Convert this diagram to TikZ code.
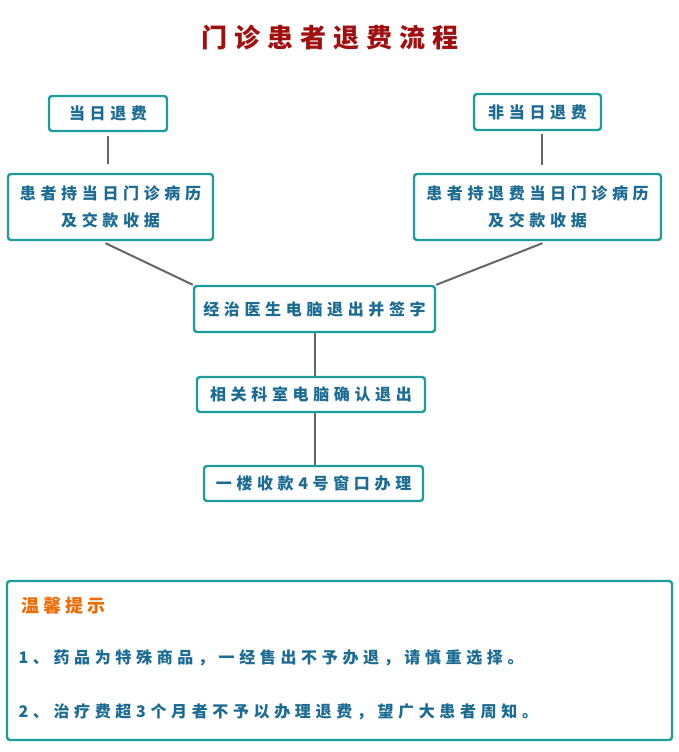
\documentclass[tikz,border=0pt]{standalone}
\usepackage{fontspec}
\usepackage{tikz}
\usetikzlibrary{positioning, calc}
\newfontfamily\cjk[LetterSpace=29]{Noto Sans CJK SC}
\newfontfamily\cjktitle[LetterSpace=27]{Noto Sans CJK SC}
\newfontfamily\cjkhead[LetterSpace=22]{Noto Sans CJK SC}
\definecolor{frame}{HTML}{1E9C9C}
\definecolor{textblue}{HTML}{1B6B93}
\definecolor{titlered}{HTML}{A01010}
\definecolor{tiporange}{HTML}{F06A00}
\definecolor{linkgray}{HTML}{666666}

\begin{document}
\begin{tikzpicture}[
  x=1pt, y=-1pt,
  box/.style={draw=frame, line width=2.4pt, fill=white, rounded corners=3pt,
              inner sep=0pt, align=center, text=textblue,
              font=\cjk\bfseries\fontsize{16}{27}\selectfont},
  link/.style={draw=linkgray, line width=2pt}
]
  \useasboundingbox (0,0) rectangle (679,752);

  % title
  \node[font=\cjktitle\bfseries\fontsize{26}{30}\selectfont, text=titlered]
    (title) at (330,38) {门诊患者退费流程};

  % two starting points
  \node[box, minimum width=118pt, minimum height=35pt] (sameday) at (108,113.5) {当日退费};
  \node[box, minimum width=127pt, minimum height=36pt] (otherday) at (537.5,112) {非当日退费};

  \node[box, minimum width=205pt, minimum height=66pt] (docsame) at (110.5,207)
    {患者持当日门诊病历\\及交款收据};
  \node[box, minimum width=247pt, minimum height=66pt] (docother) at (537.5,207)
    {患者持退费当日门诊病历\\及交款收据};

  % common steps
  \node[box, minimum width=241pt, minimum height=46pt] (doctor) at (314.5,309) {经治医生电脑退出并签字};
  \node[box, minimum width=228pt, minimum height=35pt] (dept) at (311,394.5) {相关科室电脑确认退出};
  \node[box, minimum width=219pt, minimum height=35pt] (cashier) at (313.5,483.5) {一楼收款4号窗口办理};

  \draw[link] ($(sameday.south)+(0,4)$) -- ($(sameday.south |- docsame.north)+(0,-9)$);
  \draw[link] ($(otherday.south)+(4,3)$) -- ($(otherday.south |- docsame.north)+(4,-8)$);
  \draw[link] ($(docsame.south)+(-5,2)$) -- (doctor.north west);
  \draw[link] ($(docother.south)+(5,2)$) -- (doctor.north east);
  \draw[link] (doctor.south) -- (doctor.south |- dept.north);
  \draw[link] (doctor.south |- dept.south) -- (doctor.south |- cashier.north);

  % reminder
  \node[box, minimum width=665pt, minimum height=159pt] (notes) at (339.5,660.5) {};
  \node[anchor=west, text=tiporange, font=\cjkhead\bfseries\fontsize{18}{20}\selectfont]
    (tiphead) at (18,606) {温馨提示};
  \node[anchor=west, text=textblue, font=\cjk\bfseries\fontsize{16}{18}\selectfont]
    (tipone) at (15,658) {1、药品为特殊商品，一经售出不予办退，请慎重选择。};
  \node[anchor=west, text=textblue, font=\cjk\bfseries\fontsize{16}{18}\selectfont]
    (tiptwo) at (15,712) {2、治疗费超3个月者不予以办理退费，望广大患者周知。};
\end{tikzpicture}
\end{document}
